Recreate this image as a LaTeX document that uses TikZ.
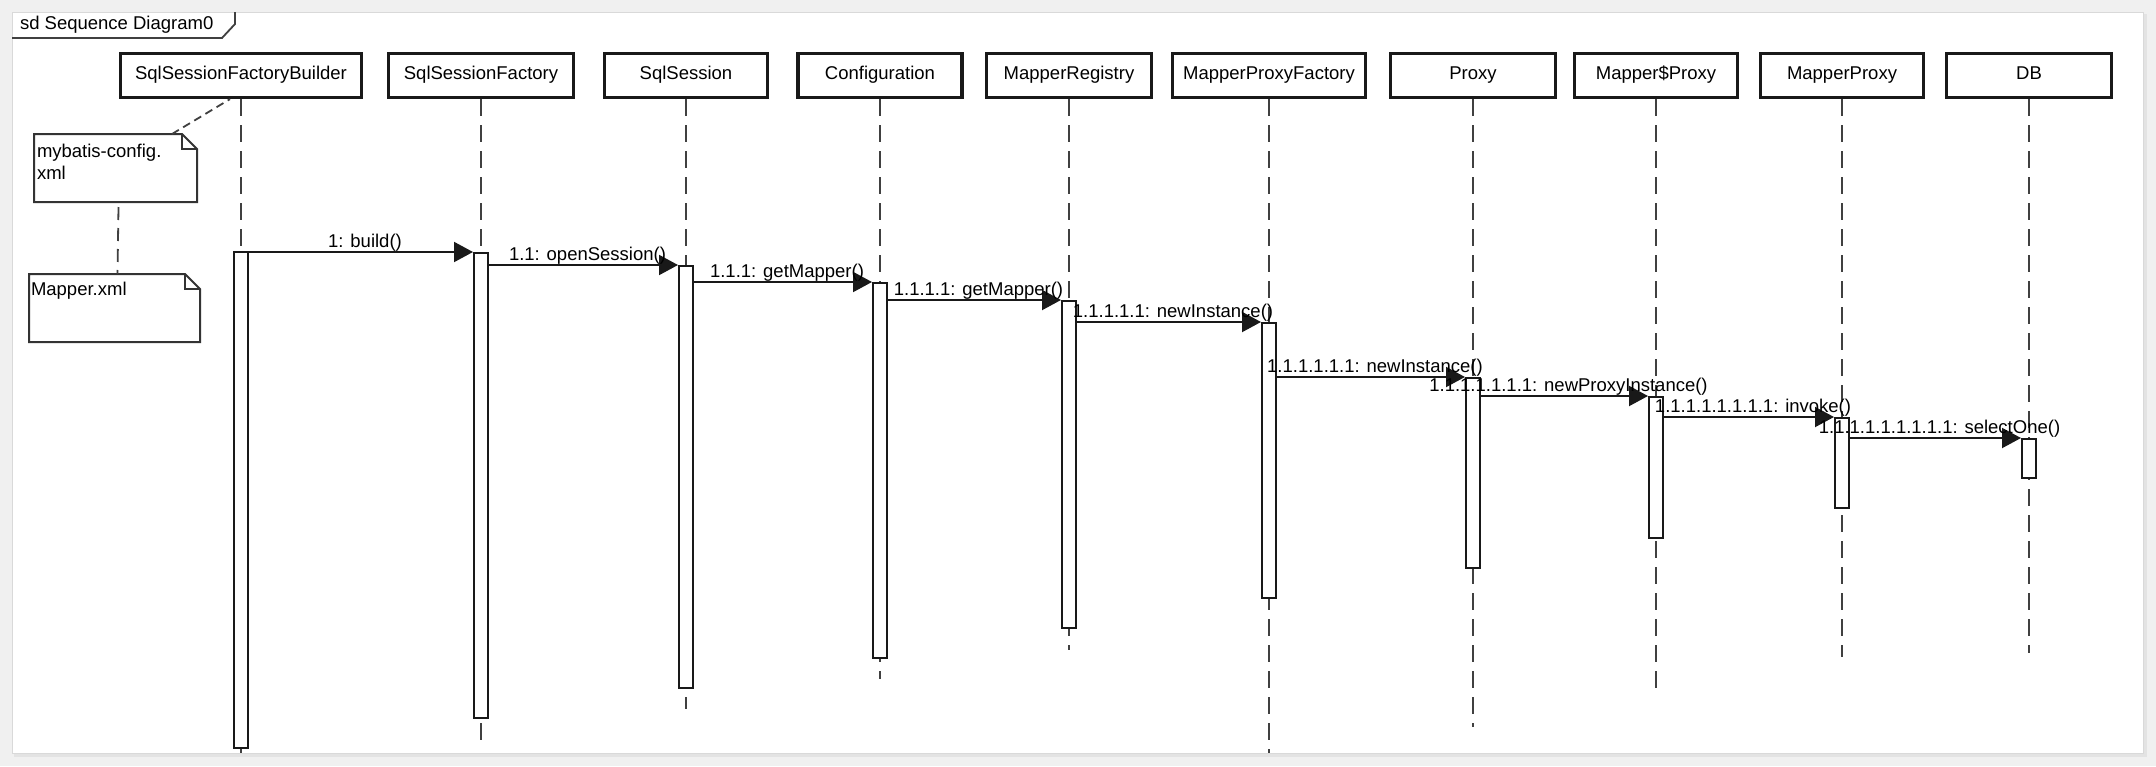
\documentclass[tikz,border=0pt]{standalone}
\usepackage{fontspec}
\setmainfont{Liberation Sans}
\usetikzlibrary{arrows.meta,calc}
\begin{document}
\begin{tikzpicture}[x=1pt,y=-1pt,
  txt/.style={font=\fontsize{18.5}{22}\selectfont, inner sep=0pt, outer sep=0pt},
  hdr/.style={draw=black!90, line width=3.2pt, minimum height=44pt, inner sep=0pt,
     font=\fontsize{18.5}{22}\selectfont, text height=12pt, text depth=5pt},
  life/.style={draw=black!75, line width=1.5pt, dash pattern=on 17pt off 9pt},
  actbar/.style={draw=black!90, fill=white, line width=2pt, minimum width=14pt, inner sep=0pt, anchor=north},
  msg/.style={draw=black!90, line width=2pt, -{Triangle[length=19pt,width=20pt]}},
  mlabel/.style={txt, midway, anchor=base, yshift=4.5pt, xshift=4pt},
  notebox/.style={inner sep=0pt, outer sep=0pt, anchor=north west},
  noteline/.style={draw=black!80, line width=2pt},
  notelink/.style={draw=black!75, line width=1.8pt, dash pattern=on 8pt off 5pt},
  notelinkb/.style={draw=black!75, line width=1.8pt, dash pattern=on 13pt off 8pt}
]
\useasboundingbox (0,0) rectangle (2156,766);
% frame background
\fill[black!6] (0,0) rectangle (2156,766);
\fill[black!11] (14,14) rectangle (2147,757);
\fill[white] (12,12) rectangle (2143,753);
\draw[black!15, line width=0.8pt] (12,12) rectangle (2143,753);
% title tab
\draw[black!75, line width=1.8pt] (12,38) -- (222,38) -- (235,24) -- (235,12);
\node[txt, anchor=base west] (title) at (20,29) {sd Sequence Diagram0};

% headers
\node[hdr, minimum width=241pt] (h1) at (241,75.5) {SqlSessionFactoryBuilder};
\node[hdr, minimum width=185pt] (h2) at (481,75.5) {SqlSessionFactory};
\node[hdr, minimum width=163pt] (h3) at (686,75.5) {SqlSession};
\node[hdr, minimum width=164pt] (h4) at (880,75.5) {Configuration};
\node[hdr, minimum width=165pt] (h5) at (1069,75.5) {MapperRegistry};
\node[hdr, minimum width=193pt] (h6) at (1269,75.5) {MapperProxyFactory};
\node[hdr, minimum width=165pt] (h7) at (1473,75.5) {Proxy};
\node[hdr, minimum width=163pt] (h8) at (1656,75.5) {Mapper\$Proxy};
\node[hdr, minimum width=163pt] (h9) at (1842,75.5) {MapperProxy};
\node[hdr, minimum width=165pt] (h10) at (2029,75.5) {DB};

% lifeline ends
\coordinate (e1) at (241,753);
\coordinate (e2) at (481,740);
\coordinate (e3) at (686,709);
\coordinate (e4) at (880,679);
\coordinate (e5) at (1069,650);
\coordinate (e6) at (1269,753);
\coordinate (e7) at (1473,727);
\coordinate (e8) at (1656,697);
\coordinate (e9) at (1842,657);
\coordinate (e10) at (2029,653);
\foreach \i in {1,...,10} {
  \draw[life] (h\i.south) -- (h\i.south |- e\i);
}

% activation bars
\node[actbar, minimum height=496pt] (b1) at (241,251) {};
\node[actbar, minimum height=465pt] (b2) at (481,252) {};
\node[actbar, minimum height=422pt] (b3) at (686,265) {};
\node[actbar, minimum height=375pt] (b4) at (880,282) {};
\node[actbar, minimum height=327pt] (b5) at (1069,300) {};
\node[actbar, minimum height=275pt] (b6) at (1269,322) {};
\node[actbar, minimum height=190pt] (b7) at (1473,377) {};
\node[actbar, minimum height=141pt] (b8) at (1656,396) {};
\node[actbar, minimum height=90pt] (b9) at (1842,417) {};
\node[actbar, minimum height=39pt] (b10) at (2029,438) {};

% messages
\draw[msg] (b1.north east |- b2.north west) -- (b2.north west) node[mlabel] {1: build()};
\draw[msg] (b2.north east |- b3.north west) -- (b3.north west) node[mlabel] {1.1: openSession()};
\draw[msg] (b3.north east |- b4.north west) -- (b4.north west) node[mlabel] {1.1.1: getMapper()};
\draw[msg] (b4.north east |- b5.north west) -- (b5.north west) node[mlabel] {1.1.1.1: getMapper()};
\draw[msg] (b5.north east |- b6.north west) -- (b6.north west) node[mlabel] {1.1.1.1.1: newInstance()};
\draw[msg] (b6.north east |- b7.north west) -- (b7.north west) node[mlabel] {1.1.1.1.1.1: newInstance()};
\draw[msg] (b7.north east |- b8.north west) -- (b8.north west) node[mlabel] {1.1.1.1.1.1.1: newProxyInstance()};
\draw[msg] (b8.north east |- b9.north west) -- (b9.north west) node[mlabel] {1.1.1.1.1.1.1.1: invoke()};
\draw[msg] (b9.north east |- b10.north west) -- (b10.north west) node[mlabel] {1.1.1.1.1.1.1.1.1: selectOne()};

% notes
\node[notebox, minimum width=163pt, minimum height=68pt] (n1) at (34,134) {};
\draw[noteline] (n1.north west) -- ([xshift=-15pt]n1.north east) -- ([yshift=-15pt]n1.north east)
   -- (n1.south east) -- (n1.south west) -- cycle;
\draw[noteline] ([xshift=-15pt]n1.north east) -- ([xshift=-15pt,yshift=-15pt]n1.north east) -- ([yshift=-15pt]n1.north east);
\node[txt, anchor=base west] (n1t) at (37,157) {mybatis-config.};
\node[txt, anchor=base west] (n1u) at (37,179) {xml};

\node[notebox, minimum width=171pt, minimum height=68pt] (n2) at (29,274) {};
\draw[noteline] (n2.north west) -- ([xshift=-15pt]n2.north east) -- ([yshift=-15pt]n2.north east)
   -- (n2.south east) -- (n2.south west) -- cycle;
\draw[noteline] ([xshift=-15pt]n2.north east) -- ([xshift=-15pt,yshift=-15pt]n2.north east) -- ([yshift=-15pt]n2.north east);
\node[txt, anchor=base west] (n2t) at (31,295) {Mapper.xml};

% note links
\draw[notelink] ([xshift=-25pt]n1.north east) -- ([xshift=-11pt]h1.south);
\draw[notelinkb] ([xshift=3pt,yshift=-5pt]n1.south) -- ([xshift=3pt]n2.north);
\end{tikzpicture}
\end{document}
